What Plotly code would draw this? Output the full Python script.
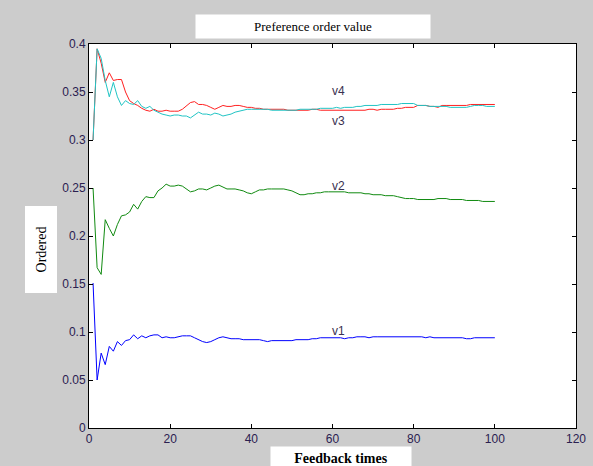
import plotly.graph_objects as go

feedback_times = list(range(1, 101))

v1 = [0.151, 0.050, 0.078, 0.066, 0.085, 0.080, 0.090, 0.086, 0.091, 0.092,
      0.097, 0.093, 0.096, 0.094, 0.096, 0.097, 0.097, 0.094, 0.095, 0.094,
      0.094, 0.095, 0.096, 0.096, 0.096, 0.094, 0.092, 0.090, 0.089, 0.090,
      0.092, 0.094, 0.095, 0.094, 0.093, 0.093, 0.093, 0.092, 0.092, 0.092,
      0.092, 0.092, 0.091, 0.090, 0.091, 0.091, 0.091, 0.091, 0.091, 0.091,
      0.092, 0.092, 0.092, 0.092, 0.093, 0.093, 0.094, 0.094, 0.094, 0.094,
      0.094, 0.094, 0.093, 0.094, 0.094, 0.095, 0.095, 0.095, 0.094, 0.095,
      0.095, 0.095, 0.095, 0.095, 0.095, 0.095, 0.095, 0.095, 0.095, 0.095,
      0.095, 0.095, 0.094, 0.095, 0.094, 0.094, 0.094, 0.094, 0.094, 0.094,
      0.094, 0.094, 0.093, 0.093, 0.094, 0.094, 0.094, 0.094, 0.094, 0.094]

v2 = [0.250, 0.167, 0.160, 0.217, 0.208, 0.200, 0.212, 0.221, 0.222, 0.225,
      0.233, 0.228, 0.236, 0.241, 0.240, 0.240, 0.247, 0.250, 0.254, 0.252,
      0.252, 0.253, 0.252, 0.249, 0.246, 0.247, 0.249, 0.249, 0.248, 0.250,
      0.252, 0.253, 0.251, 0.249, 0.249, 0.249, 0.248, 0.247, 0.245, 0.244,
      0.246, 0.248, 0.248, 0.249, 0.249, 0.249, 0.249, 0.249, 0.248, 0.247,
      0.245, 0.243, 0.243, 0.244, 0.244, 0.245, 0.245, 0.246, 0.246, 0.246,
      0.246, 0.246, 0.246, 0.245, 0.245, 0.245, 0.245, 0.244, 0.244, 0.243,
      0.243, 0.243, 0.242, 0.242, 0.242, 0.241, 0.240, 0.239, 0.239, 0.239,
      0.238, 0.238, 0.238, 0.238, 0.238, 0.239, 0.239, 0.239, 0.238, 0.238,
      0.238, 0.238, 0.237, 0.237, 0.237, 0.237, 0.236, 0.236, 0.236, 0.236]

v3 = [0.300, 0.395, 0.385, 0.362, 0.345, 0.360, 0.345, 0.336, 0.341, 0.338,
      0.337, 0.341, 0.335, 0.333, 0.335, 0.331, 0.329, 0.327, 0.326, 0.325,
      0.326, 0.326, 0.325, 0.325, 0.323, 0.326, 0.329, 0.327, 0.327, 0.326,
      0.328, 0.327, 0.325, 0.326, 0.327, 0.329, 0.330, 0.331, 0.332, 0.332,
      0.332, 0.332, 0.332, 0.332, 0.331, 0.331, 0.331, 0.331, 0.331, 0.331,
      0.331, 0.332, 0.332, 0.332, 0.332, 0.332, 0.333, 0.333, 0.333, 0.333,
      0.334, 0.333, 0.334, 0.334, 0.334, 0.335, 0.335, 0.336, 0.336, 0.336,
      0.336, 0.337, 0.337, 0.337, 0.337, 0.337, 0.338, 0.338, 0.338, 0.338,
      0.336, 0.336, 0.336, 0.335, 0.335, 0.335, 0.335, 0.335, 0.334, 0.334,
      0.334, 0.334, 0.334, 0.335, 0.336, 0.336, 0.336, 0.335, 0.335, 0.335]

v4 = [0.300, 0.395, 0.380, 0.360, 0.370, 0.362, 0.363, 0.363, 0.350, 0.341,
      0.338, 0.336, 0.333, 0.331, 0.330, 0.332, 0.330, 0.330, 0.331, 0.330,
      0.330, 0.330, 0.332, 0.336, 0.339, 0.340, 0.337, 0.337, 0.336, 0.334,
      0.332, 0.334, 0.336, 0.335, 0.335, 0.336, 0.336, 0.335, 0.334, 0.334,
      0.333, 0.333, 0.332, 0.332, 0.332, 0.332, 0.332, 0.332, 0.331, 0.331,
      0.331, 0.331, 0.331, 0.331, 0.332, 0.332, 0.331, 0.331, 0.331, 0.331,
      0.331, 0.331, 0.331, 0.331, 0.331, 0.331, 0.331, 0.331, 0.332, 0.332,
      0.331, 0.332, 0.332, 0.332, 0.332, 0.333, 0.333, 0.334, 0.334, 0.334,
      0.336, 0.336, 0.336, 0.335, 0.335, 0.334, 0.336, 0.336, 0.336, 0.336,
      0.336, 0.336, 0.336, 0.337, 0.337, 0.337, 0.337, 0.337, 0.337, 0.337]

x_ticks = [0, 20, 40, 60, 80, 100, 120]
y_ticks = [0, 0.05, 0.1, 0.15, 0.2, 0.25, 0.3, 0.35, 0.4]
y_tick_labels = ["0", "0.05", "0.1", "0.15", "0.2", "0.25", "0.3", "0.35", "0.4"]

series = [("v1", v1, "#0000ff"), ("v2", v2, "#108a10"),
          ("v4", v4, "#ff2020"), ("v3", v3, "#20c4c4")]

fig = go.Figure()
for name, vals, col in series:
    fig.add_trace(go.Scatter(x=feedback_times, y=vals, mode="lines", name=name,
                             line=dict(color=col, width=1)))

label_font = dict(family="Liberation Sans, Arial", size=12, color="#3a3050")
for txt, yy in [("v4", 0.351), ("v3", 0.320), ("v2", 0.252), ("v1", 0.101)]:
    fig.add_annotation(x=61.5, y=yy, xref="x", yref="y", text=txt,
                       showarrow=False, font=label_font,
                       xanchor="center", yanchor="middle")

L, R, T, B = 89, 17, 44, 38
W, H = 593, 466
pw, ph = W - L - R, H - T - B


def px_to_paper(px, py):
    return (px - L) / pw, (H - B - py) / ph


serif = "Liberation Serif, Times New Roman"
tx, ty = px_to_paper(313, 26.5)
fig.add_annotation(x=tx, y=ty, xref="paper", yref="paper",
                   text="Preference order value", showarrow=False,
                   xanchor="center", yanchor="middle",
                   bgcolor="white", width=234, height=23, borderpad=0,
                   font=dict(family=serif, size=13, color="black"))
yx, yy_ = px_to_paper(41.5, 250)
fig.add_annotation(x=yx, y=yy_, xref="paper", yref="paper",
                   text="Ordered", showarrow=False, textangle=-90,
                   xanchor="center", yanchor="middle",
                   bgcolor="white", width=86, height=31, borderpad=0,
                   font=dict(family=serif, size=14, color="black"))
xx, xy = px_to_paper(341, 458)
fig.add_annotation(x=xx, y=xy, xref="paper", yref="paper",
                   text="<b>Feedback times</b>", showarrow=False,
                   xanchor="center", yanchor="middle",
                   bgcolor="white", width=140, height=22, borderpad=0,
                   font=dict(family=serif, size=14, color="black"))

tick_font = dict(family="Liberation Sans, Arial", size=12, color="#2a2050")
fig.update_xaxes(range=[0, 120], tickvals=x_ticks, ticks="inside", ticklen=4,
                 tickcolor="black", showline=True, linecolor="black", linewidth=1,
                 mirror="ticks", showgrid=False, zeroline=False, tickfont=tick_font,
                 automargin=False)
fig.update_yaxes(range=[0, 0.4], tickvals=y_ticks, ticktext=y_tick_labels,
                 ticks="inside", ticklen=4, tickcolor="black", showline=True,
                 linecolor="black", linewidth=1, mirror="ticks", showgrid=False,
                 zeroline=False, tickfont=tick_font, automargin=False)
fig.update_layout(width=W, height=H, paper_bgcolor="#cccccc",
                  plot_bgcolor="white", showlegend=False, hovermode=False,
                  margin=dict(l=L, r=R, t=T, b=B))

fig.write_html("out.html", config={"displayModeBar": False},
               post_script="document.body.style.margin='0';document.body.style.overflow='hidden';")
